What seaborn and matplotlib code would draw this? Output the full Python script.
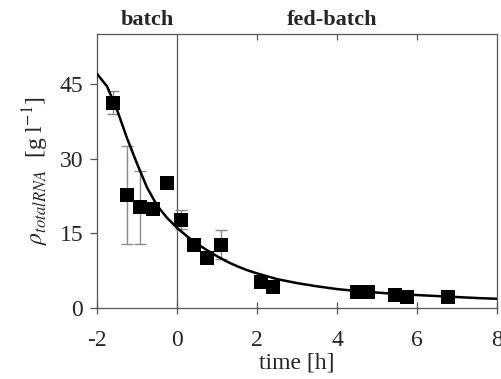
import matplotlib
matplotlib.use("Agg")
import matplotlib.pyplot as plt
import seaborn as sns
import pandas as pd

# measured total RNA concentration
time_h = [-1.59, -1.26, -0.93, -0.59, -0.26, 0.09, 0.43, 0.76, 1.09,
          2.09, 2.41, 4.51, 4.78, 5.45, 5.76, 6.78]
rho_rna = [41.2, 22.7, 20.2, 19.9, 25.0, 17.7, 12.7, 10.1, 12.7,
           5.3, 4.2, 3.3, 3.3, 2.6, 2.3, 2.3]
# standard deviations (only where available)
err_time = [-1.59, -1.26, -0.93, 0.09, 1.09]
err_rho = [41.2, 22.7, 20.2, 17.7, 12.7]
err_sd = [2.3, 9.9, 7.4, 1.9, 2.9]

# model curve
model_t = [-2.0, -1.75, -1.5, -1.25, -1.0, -0.75, -0.5, -0.25, 0.0, 0.25,
           0.5, 0.75, 1.0, 1.25, 1.5, 1.75, 2.0, 2.5, 3.0, 3.5, 4.0, 4.5,
           5.0, 5.5, 6.0, 6.5, 7.0, 7.5, 8.0]
model_rho = [47.0, 44.5, 39.8, 34.1, 29.0, 24.2, 20.6, 18.1, 16.1, 14.4,
             12.9, 11.6, 10.4, 9.3, 8.4, 7.6, 6.95, 5.8, 5.0, 4.35, 3.8, 3.4,
             3.1, 2.8, 2.6, 2.4, 2.2, 2.0, 1.85]

x_ticks = [-2, 0, 2, 4, 6, 8]
y_ticks = [0, 15, 30, 45]

sns.set_style("ticks")
plt.rcParams["font.family"] = ["Liberation Serif", "DejaVu Serif"]
plt.rcParams["mathtext.fontset"] = "stix"
plt.rcParams["axes.unicode_minus"] = False

fig = plt.figure(figsize=(5.02, 3.79), dpi=100)
ax = fig.add_axes([97 / 502, 1 - 308 / 379, 400 / 502, 274 / 379])

meas = pd.DataFrame({"t": time_h, "rho": rho_rna})
model = pd.DataFrame({"t": model_t, "rho": model_rho})

ax.axvline(0, color="#555555", lw=0.9, zorder=1)
ax.errorbar(err_time, err_rho, yerr=err_sd, fmt="none", ecolor="#8a8a8a",
            elinewidth=1.0, capsize=4, capthick=1.0, zorder=2)
sns.lineplot(data=model, x="t", y="rho", color="black", lw=1.8, ax=ax,
             zorder=3)
sns.scatterplot(data=meas, x="t", y="rho", marker="s", s=100, color="black",
                edgecolor="black", linewidth=0, ax=ax, zorder=4)

ax.set_xlim(-2, 8)
ax.set_ylim(0, 55)
ax.set_xticks(x_ticks)
ax.set_yticks(y_ticks)
ax.tick_params(axis="x", direction="inout", length=8, width=0.9,
               color="#555555", labelsize=17, pad=12, top=False)
ax.tick_params(axis="y", direction="out", length=5, width=0.9,
               color="#555555", labelsize=17, pad=5)
for s in ax.spines.values():
    s.set_color("#555555")
    s.set_linewidth(0.9)

# inward ticks on the top edge
top = ax.secondary_xaxis("top")
top.set_xticks([2, 4, 6])
top.tick_params(direction="in", length=4, width=0.9, color="#555555",
                labeltop=False)
top.spines["top"].set_visible(False)

ax.set_xlabel("time [h]", fontsize=17, labelpad=1)
ax.set_ylabel(r"$\rho_{totalRNA}$  [g l$^{\mathrm{-1}}$]", fontsize=17,
              labelpad=6)

fig.text(147 / 502, 1 - 20 / 379, "batch", ha="center", va="center",
         fontsize=16, fontweight="bold")
fig.text(332 / 502, 1 - 20 / 379, "fed-batch", ha="center", va="center",
         fontsize=16, fontweight="bold")

fig.savefig("out.png", dpi=100)
